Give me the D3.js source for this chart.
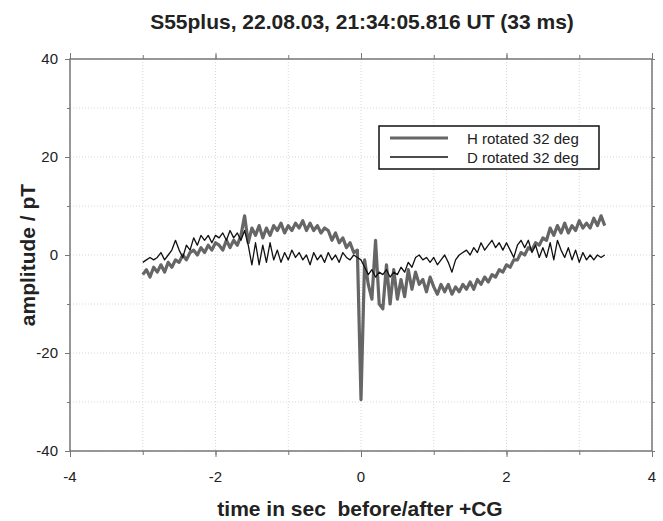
<!DOCTYPE html>
<html>
<head>
<meta charset="utf-8">
<script src="https://cdn.jsdelivr.net/npm/d3@7"></script>
<style>
  body { margin: 0; background: #fff; }
  text { font-family: "Liberation Sans", Arial, sans-serif; fill: #222; }
  .title, .axis-title { font-weight: bold; font-size: 21px; }
  .tick-label { font-size: 15px; }
  .legend text { font-size: 15px; }
</style>
</head>
<body>
<div id="chart"></div>
<script>
// sampling of both traces
const tStart = -3.0
const tStep = 0.05

// H rotated 32 deg (pT)
const hValues = [
  -4, -3, -4.5, -2.5, -3.5, -2, -3.5, -1.5, -2.5, -1, -1.5,
  0, -1, 0.5, 1, 0, 1.5, 0.5, 2, 1, 2.5,
  2, 1, 3, 1.5, 3, 2, 4, 8, 2.5, 5.5,
  4, 6, 3.5, 5.5, 4, 6, 5, 6.5, 4.5, 6, 5, 6.5, 5.5, 7, 5, 6.5, 5, 6, 4.5, 5.5,
  5, 3, 4.5, 2.5, 3.5, 1.5, 2.5, 0.5, 1, -29.5,
  -1, -6, -9, 3, -10, -11, -2, -10, -3, -9, -5, -8.5, -3, -7, -3.5, -6, -5, -7.5, -4.5,
  -6.5, -8, -6, -7.5, -6, -8, -6.5, -7.5, -6, -7, -5.5,
  -7, -5, -6, -4.5, -5.5, -4, -4.5, -3, -3.5, -2,
  -2.5, -1, -1, 0.5, 0, 1.5, 1, 2.5, 2, 3.5,
  3, 5.5, 4, 6, 4.5, 6.5, 4.5, 6, 5, 7, 5.5, 6.5, 5.5, 7.5, 6, 8, 6
]

// D rotated 32 deg (pT)
const dValues = [
  -1.5, -1, -0.5, -1, -0.5, 0.5, -1, 0, 1, 3, 1,
  -0.5, 2, 1, 3.5, 2, 4, 3, 4, 2.5, 4,
  3.5, 4.5, 3, 5, 3.5, 4.5, 3, 5, 2, -2,
  2.5, -2, 2, -1.5, 2.5, -1, 1, -1.5, 0.5, -1, 1, -0.5, 0.5, -1, 0, -2, 0.5, -1, 0, -1.5,
  0.5, -1, 0, -1.5, 0.5, -0.5, -1, 0, -0.5, -1,
  -2.5, -4, -3, -4.5, -3.5, -4, -3, -4.5, -3.5, -4, -2.5, -3.5, -1.5, -2.5, -0.5, 0, -1, -0.5, -1.5,
  -0.5, -2, -1, 0, -1.5, -3.5, -1, 0, 0.5, 1, 0,
  1.5, 0.5, 2.5, 1, 2, 3, 1.5, 2.5, 1, 2.5, 1,
  -0.5, 2, 3, 1.5, 3, 0.5, 2, -0.5, 1.5,
  -0.5, 2.5, -1, 3, 1, -0.5, 1.5, -1, 1, -1.5, 0.5, -1, 0, -1, 0, -0.5, 0
]

const seriesNames = ["H rotated 32 deg", "D rotated 32 deg"]
const xTickLabels = [-4, -2, 0, 2, 4]
const yTickLabels = [-40, -20, 0, 20, 40]

const width = 663, height = 521
const margin = {left: 70, right: 11, top: 59, bottom: 70}

const svg = d3.select("#chart").append("svg")
    .attr("width", width)
    .attr("height", height)

const x = d3.scaleLinear().domain([-4, 4]).range([margin.left, width - margin.right])
const y = d3.scaleLinear().domain([-40, 40]).range([height - margin.bottom, margin.top])

// grid
const xGrid = d3.range(-4, 4.01, 1)
const yGrid = d3.range(-40, 40.01, 10)
svg.append("g").selectAll("line").data(xGrid).enter().append("line")
    .attr("x1", d => x(d)).attr("x2", d => x(d))
    .attr("y1", y(40)).attr("y2", y(-40))
    .attr("stroke", "#d8d8d8").attr("stroke-dasharray", "1,2")
svg.append("g").selectAll("line").data(yGrid).enter().append("line")
    .attr("x1", x(-4)).attr("x2", x(4))
    .attr("y1", d => y(d)).attr("y2", d => y(d))
    .attr("stroke", "#d8d8d8").attr("stroke-dasharray", "1,2")

// axes: ticks outside the frame on all four sides
const axisColor = "#777"
const styleAxis = g => {
    g.select(".domain").remove()
    g.selectAll(".tick line").attr("stroke", axisColor)
    g.selectAll(".tick text").remove()
}
svg.append("g").attr("transform", `translate(0,${y(-40)})`)
    .call(d3.axisBottom(x).tickValues(xGrid).tickSize(4)).call(styleAxis)
svg.append("g").attr("transform", `translate(0,${y(-40)})`)
    .call(d3.axisBottom(x).tickValues(xTickLabels).tickSize(6)).call(styleAxis)
svg.append("g").attr("transform", `translate(0,${y(40)})`)
    .call(d3.axisTop(x).tickValues(xGrid).tickSize(4)).call(styleAxis)
svg.append("g").attr("transform", `translate(0,${y(40)})`)
    .call(d3.axisTop(x).tickValues(xTickLabels).tickSize(6)).call(styleAxis)
svg.append("g").attr("transform", `translate(${x(-4)},0)`)
    .call(d3.axisLeft(y).tickValues(yGrid).tickSize(3)).call(styleAxis)
svg.append("g").attr("transform", `translate(${x(-4)},0)`)
    .call(d3.axisLeft(y).tickValues(yTickLabels).tickSize(5)).call(styleAxis)
svg.append("g").attr("transform", `translate(${x(4)},0)`)
    .call(d3.axisRight(y).tickValues(yGrid).tickSize(3)).call(styleAxis)

// frame
svg.append("rect")
    .attr("x", x(-4)).attr("y", y(40))
    .attr("width", x(4) - x(-4)).attr("height", y(-40) - y(40))
    .attr("fill", "none").attr("stroke", axisColor).attr("stroke-width", 1.5)

// tick labels
svg.append("g").selectAll("text").data(xTickLabels).enter().append("text")
    .attr("class", "tick-label")
    .attr("x", d => x(d)).attr("y", y(-40) + 31)
    .attr("text-anchor", "middle")
    .text(d => d)
svg.append("g").selectAll("text").data(yTickLabels).enter().append("text")
    .attr("class", "tick-label")
    .attr("x", x(-4) - 12).attr("y", d => y(d) + 5)
    .attr("text-anchor", "end")
    .text(d => d)

// traces
const times = hValues.map((d, i) => tStart + i * tStep)
const line = d3.line().x((d, i) => x(times[i])).y(d => y(d))

svg.append("path").datum(hValues)
    .attr("d", line)
    .attr("fill", "none").attr("stroke", "#666").attr("stroke-width", 3.2)
    .attr("stroke-linejoin", "round")
svg.append("path").datum(dValues)
    .attr("d", line)
    .attr("fill", "none").attr("stroke", "#111").attr("stroke-width", 1.3)
    .attr("stroke-linejoin", "round")

// legend
const legend = svg.append("g").attr("class", "legend")
legend.append("rect")
    .attr("x", 379).attr("y", 126).attr("width", 220).attr("height", 43)
    .attr("fill", "#fff").attr("stroke", "#111").attr("stroke-width", 1.5)
const legendStyles = [{c: "#666", w: 3.2}, {c: "#111", w: 1.3}]
seriesNames.forEach((name, i) => {
    legend.append("line")
        .attr("x1", 390).attr("x2", 448)
        .attr("y1", 138 + i * 19).attr("y2", 138 + i * 19)
        .attr("stroke", legendStyles[i].c).attr("stroke-width", legendStyles[i].w)
    legend.append("text")
        .attr("x", 467).attr("y", 143.5 + i * 19)
        .text(name)
})

// titles
svg.append("text")
    .attr("class", "title")
    .attr("x", 362).attr("y", 29)
    .attr("text-anchor", "middle")
    .text("S55plus, 22.08.03, 21:34:05.816 UT (33 ms)")

svg.append("text")
    .attr("class", "axis-title")
    .attr("x", 360).attr("y", 516)
    .attr("text-anchor", "middle")
    .attr("xml:space", "preserve")
    .text("time in sec  before/after +CG")

svg.append("text")
    .attr("class", "axis-title")
    .attr("transform", `translate(35,${y(0)}) rotate(-90)`)
    .attr("text-anchor", "middle")
    .text("amplitude / pT")
</script>
</body>
</html>
